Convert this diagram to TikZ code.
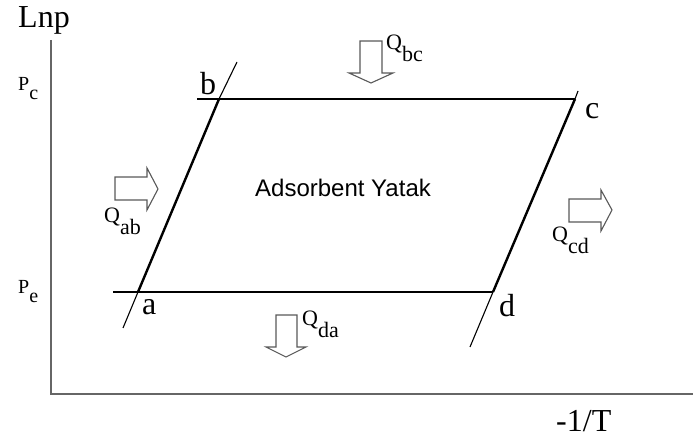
\documentclass[tikz,border=0pt]{standalone}
\usepackage{fontspec}
\setmainfont{Liberation Serif}
\newfontfamily\arialf{Liberation Sans}
\newcommand{\Qsub}[1]{{\fontsize{22}{22}\selectfont Q\raisebox{-12pt}{\fontsize{22}{22}\selectfont #1}}}
\newcommand{\Psub}[1]{{\fontsize{20}{20}\selectfont P\raisebox{-9pt}{\fontsize{20}{20}\selectfont #1}}}
\tikzset{
  axisline/.style={draw=black!60, line width=1.4pt},
  isoline/.style={draw=black, line width=2.4pt},
  extline/.style={draw=black, line width=1.1pt},
  blockarrow/.style={draw=black!65, line width=1.1pt, fill=white, line join=miter},
  lbl/.style={inner sep=0pt, anchor=base west},
  big/.style={lbl, font=\fontsize{32}{32}\selectfont},
}
\begin{document}
\begin{tikzpicture}[x=1pt,y=-1pt]
\useasboundingbox (0,0) rectangle (693,443);
% axes
\coordinate (o) at (51,394);
\coordinate (ytop) at (51,40);
\coordinate (xend) at (693,394);
\draw[axisline] (ytop) -- (o) -- (xend);
% corners
\coordinate (a) at (138,292);
\coordinate (b) at (219,99);
\coordinate (c) at (575,99);
\coordinate (d) at (493,292);
\coordinate (bl) at (113,292);
\coordinate (tl) at (197,99);
\coordinate (aext) at (123,328);
\coordinate (bext) at (237,62);
\coordinate (cext) at (578,91);
\coordinate (dext) at (470,347);
\draw[isoline] (tl) -- (c);
\draw[isoline] (bl) -- (d);
\draw[isoline] (a) -- (b);
\draw[isoline] (d) -- (c);
\draw[extline] (aext) -- (a);
\draw[extline] (b) -- (bext);
\draw[extline] (c) -- (cext);
\draw[extline] (dext) -- (d);
% labels
\node[big] (lnp) at (18,28) {Lnp};
\node[big] (tl1) at (556,431) {-1/T};
\node[lbl] (pc) at (18,91) {\Psub{c}};
\node[lbl] (pe) at (18,294) {\Psub{e}};
\node[big] (lb) at (200,95) {b};
\node[big] (la) at (142,315) {a};
\node[big] (lc) at (585,119) {c};
\node[big] (ld) at (499,317) {d};
\node[lbl, font=\arialf\fontsize{24}{24}\selectfont] (ay) at (255,197) {Adsorbent Yatak};
% block arrows
\draw[blockarrow] (115,177) -- (147,177) -- (147,168) -- (158,189) -- (147,210) -- (147,200) -- (115,200) -- cycle;
\draw[blockarrow] (569,199) -- (601,199) -- (601,190) -- (612,210) -- (601,231) -- (601,222) -- (569,222) -- cycle;
\draw[blockarrow] (360,41) -- (382,41) -- (382,73) -- (393,73) -- (371,83) -- (349,73) -- (360,73) -- cycle;
\draw[blockarrow] (276,315) -- (297,315) -- (297,347) -- (306,347) -- (286,357) -- (266,347) -- (276,347) -- cycle;
\node[lbl] (qab) at (104,223) {\Qsub{ab}};
\node[lbl] (qcd) at (552,242) {\Qsub{cd}};
\node[lbl] (qbc) at (386,50) {\Qsub{bc}};
\node[lbl] (qda) at (302,326) {\Qsub{da}};
\end{tikzpicture}
\end{document}
